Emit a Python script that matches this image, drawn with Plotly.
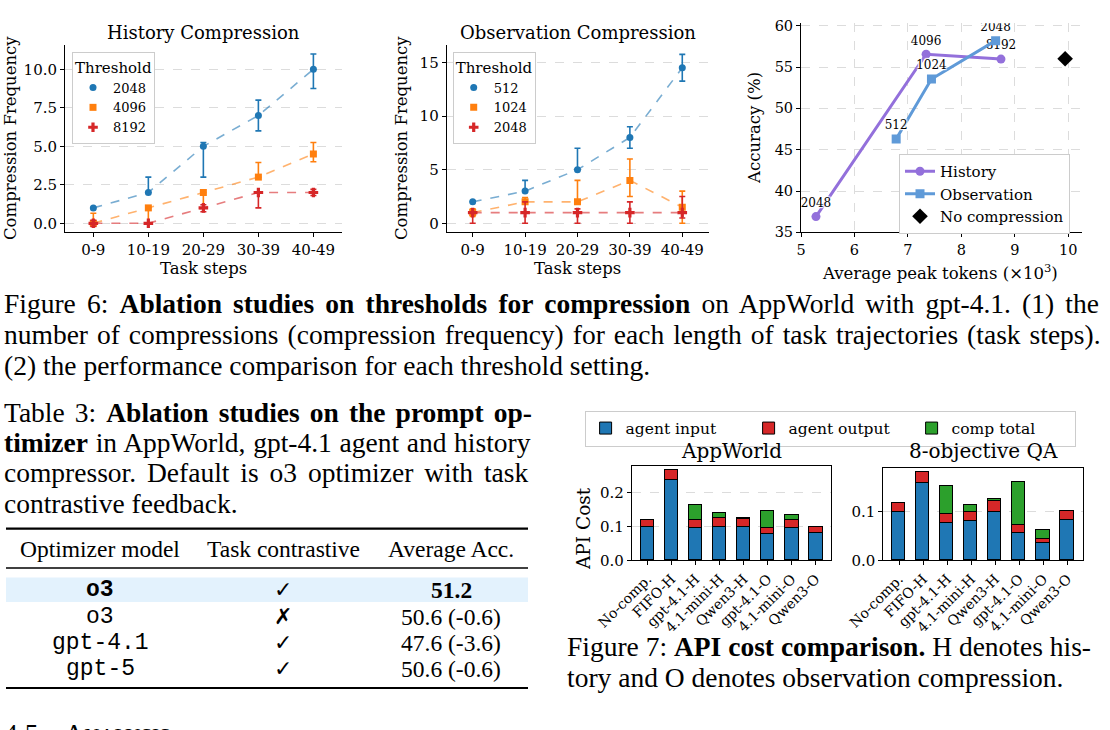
import plotly.graph_objects as go

W, H = 1110, 730
def fx(px): return px / W
def fy(py): return 1 - py / H

# ---------------- data ----------------
steps = ["0-9", "10-19", "20-29", "30-39", "40-49"]

hist_thresholds = ["2048", "4096", "8192"]
hist_2048 = [1, 2, 5, 7, 10]
hist_2048_up = [0, 1, 0.25, 1, 1]
hist_2048_dn = [0, 0, 2, 1, 1.25]
hist_4096 = [0, 1, 2, 3, 4.5]
hist_4096_up = [0.65, 0, 0, 0.95, 0.75]
hist_4096_dn = [0, 1, 1, 0, 0.5]
hist_8192 = [0, 0, 1, 2, 2]
hist_8192_up = [0.2, 0, 0.2, 0, 0.2]
hist_8192_dn = [0.2, 0, 0.25, 1, 0.2]

obs_thresholds = ["512", "1024", "2048"]
obs_512 = [2, 3, 5, 8, 14.5]
obs_512_up = [0, 1, 2, 1, 1.25]
obs_512_dn = [0, 0, 0, 1, 1.25]
obs_1024 = [1, 2, 2, 4, 1.5]
obs_1024_up = [0.35, 0.4, 2, 2, 1.5]
obs_1024_dn = [0.35, 0, 0, 1.5, 1.5]
obs_2048 = [1, 1, 1, 1, 1]
obs_2048_up = [0, 1, 0.35, 1, 1.5]
obs_2048_dn = [1, 1, 1, 1, 0.5]

acc_hist_tokens = [5.28, 7.34, 8.74]
acc_hist_acc = [36.9, 56.55, 55.97]
acc_hist_labels = ["2048", "4096", "8192"]
acc_obs_tokens = [6.78, 7.44, 8.64]
acc_obs_acc = [46.3, 53.55, 58.2]
acc_obs_labels = ["512", "1024", "2048"]
acc_nocomp_tokens = [9.94]
acc_nocomp_acc = [56.0]

methods = ["No-comp.", "FIFO-H", "gpt-4.1-H", "4.1-mini-H", "Qwen3-H", "gpt-4.1-O", "4.1-mini-O", "Qwen3-O"]
appworld_input = [0.100, 0.2375, 0.097, 0.100, 0.100, 0.078, 0.097, 0.081]
appworld_output = [0.019, 0.0315, 0.022, 0.025, 0.022, 0.019, 0.022, 0.019]
appworld_comp = [0, 0, 0.0445, 0.016, 0.004, 0.050, 0.016, 0]
qa_input = [0.100, 0.160, 0.076, 0.080, 0.100, 0.0565, 0.035, 0.082]
qa_output = [0.0174, 0.0226, 0.0197, 0.019, 0.0225, 0.0152, 0.0085, 0.020]
qa_comp = [0, 0, 0.0563, 0.014, 0.0035, 0.0903, 0.0175, 0]

table_header = ["Optimizer model", "Task contrastive", "Average Acc."]
table_models = ["o3", "o3", "gpt-4.1", "gpt-5"]
table_contrastive = [True, False, True, True]
table_acc = ["51.2", "50.6 (-0.6)", "47.6 (-3.6)", "50.6 (-0.6)"]

# ---------------- styles ----------------
SERIF = "DejaVu Serif"
TIMES = "Liberation Serif"
MONO = "Liberation Mono"
BLUE, ORANGE, RED, GREEN = "#1f77b4", "#ff7f0e", "#d62728", "#2ca02c"
LBLUE, LORANGE, LRED = "rgba(31,119,180,0.6)", "rgba(255,127,14,0.6)", "rgba(214,39,40,0.6)"
PURPLE, SKY = "#9370db", "#5f9ad8"

fig = go.Figure()

def line_trace(y, up, dn, name, color, lcolor, symbol, size, xa, ya, legend):
    fig.add_trace(go.Scatter(
        x=steps, y=y, mode="lines+markers", name=name, showlegend=False,
        line=dict(color=lcolor, width=1.6, dash="dash"),
        marker=dict(color=color, symbol=symbol, size=size, line=dict(width=0)),
        error_y=dict(type="data", symmetric=False, array=up, arrayminus=dn,
                     color=color, thickness=1.6, width=3),
        xaxis=xa, yaxis=ya))
    fig.add_trace(go.Scatter(
        x=[None], y=[None], mode="markers", name=name, legend=legend,
        marker=dict(color=color, symbol=symbol, size=size),
        xaxis=xa, yaxis=ya))

line_trace(hist_2048, hist_2048_up, hist_2048_dn, hist_thresholds[0], BLUE, LBLUE, "circle", 7, "x", "y", "legend2")
line_trace(hist_4096, hist_4096_up, hist_4096_dn, hist_thresholds[1], ORANGE, LORANGE, "square", 7, "x", "y", "legend2")
line_trace(hist_8192, hist_8192_up, hist_8192_dn, hist_thresholds[2], RED, LRED, "cross", 8, "x", "y", "legend2")
line_trace(obs_512, obs_512_up, obs_512_dn, obs_thresholds[0], BLUE, LBLUE, "circle", 7, "x2", "y2", "legend3")
line_trace(obs_1024, obs_1024_up, obs_1024_dn, obs_thresholds[1], ORANGE, LORANGE, "square", 7, "x2", "y2", "legend3")
line_trace(obs_2048, obs_2048_up, obs_2048_dn, obs_thresholds[2], RED, LRED, "cross", 8, "x2", "y2", "legend3")

halo = "1px 1px 1px white, -1px -1px 1px white, 1px -1px 1px white, -1px 1px 1px white, 0 0 2px white"
fig.add_trace(go.Scatter(
    x=acc_hist_tokens, y=acc_hist_acc, mode="lines+markers+text", name="History",
    text=acc_hist_labels, textposition="top center",
    textfont=dict(family=SERIF, size=12, color="black", shadow=halo),
    line=dict(color=PURPLE, width=3), marker=dict(color=PURPLE, symbol="circle", size=9),
    xaxis="x3", yaxis="y3", legend="legend4"))
fig.add_trace(go.Scatter(
    x=acc_obs_tokens, y=acc_obs_acc, mode="lines+markers+text", name="Observation",
    text=acc_obs_labels, textposition="top center",
    textfont=dict(family=SERIF, size=12, color="black", shadow=halo),
    line=dict(color=SKY, width=3), marker=dict(color=SKY, symbol="square", size=9),
    xaxis="x3", yaxis="y3", legend="legend4"))
fig.add_trace(go.Scatter(
    x=acc_nocomp_tokens, y=acc_nocomp_acc, mode="markers", name="No compression",
    marker=dict(color="black", symbol="diamond", size=12),
    xaxis="x3", yaxis="y3", legend="legend4"))

def bars(inp, out, comp, xa, ya, show):
    for vals, nm, col in [(inp, "agent input", BLUE), (out, "agent output", RED), (comp, "comp total", GREEN)]:
        fig.add_trace(go.Bar(x=methods, y=vals, name=nm, width=0.55,
                             marker=dict(color=col, line=dict(color="black", width=1)),
                             showlegend=show, legend="legend", xaxis=xa, yaxis=ya))

bars(appworld_input, appworld_output, appworld_comp, "x4", "y4", True)
bars(qa_input, qa_output, qa_comp, "x5", "y5", False)

# ---------------- axes ----------------
def axis_common(size, **kw):
    d = dict(showline=True, linecolor="black", linewidth=1, ticks="outside", ticklen=4,
             tickwidth=1, tickcolor="black", zeroline=False, automargin=False,
             tickfont=dict(family=SERIF, size=size, color="black"))
    d.update(kw)
    return d

grid = dict(showgrid=True, gridcolor="#dcdcdc", gridwidth=1, griddash="dash")

layout_axes = dict(
    xaxis=axis_common(15, domain=[fx(65), fx(342)], anchor="y", type="category",
                      categoryarray=steps, range=[-0.515, 4.52], showgrid=False),
    yaxis=axis_common(15, domain=[fy(232), fy(45)], anchor="x", range=[-0.566, 11.58],
                      tickvals=[0, 2.5, 5, 7.5, 10], tickformat=".1f", **grid),
    xaxis2=axis_common(15, domain=[fx(446.7), fx(709)], anchor="y2", type="category",
                       categoryarray=steps, range=[-0.496, 4.51], showgrid=False),
    yaxis2=axis_common(15, domain=[fy(232), fy(45)], anchor="x2", range=[-0.81, 16.62],
                       tickvals=[0, 5, 10, 15], **grid),
    xaxis3=axis_common(14.5, domain=[fx(801), fx(1081.7)], anchor="y3", range=[5, 10.25],
                       tickvals=[5, 6, 7, 8, 9, 10], **grid),
    yaxis3=axis_common(14.5, domain=[fy(232.3), fy(23.3)], anchor="x3", range=[35, 60.3],
                       tickvals=[35, 40, 45, 50, 55, 60], **grid),
    xaxis4=axis_common(14, domain=[fx(631.8), fx(831.4)], anchor="y4", type="category",
                       categoryarray=methods, range=[-0.65, 7.65], tickangle=-45,
                       mirror=True, showgrid=False),
    yaxis4=axis_common(15, domain=[fy(560.4), fy(466)], anchor="x4", range=[0, 0.28],
                       tickvals=[0, 0.1, 0.2], tickformat=".1f", mirror=True, **grid),
    xaxis5=axis_common(14, domain=[fx(883.4), fx(1083)], anchor="y5", type="category",
                       categoryarray=methods, range=[-0.65, 7.65], tickangle=-45,
                       mirror=True, showgrid=False),
    yaxis5=axis_common(15, domain=[fy(560.4), fy(468.4)], anchor="x5", range=[0, 0.19],
                       tickvals=[0, 0.1], tickformat=".1f", mirror=True, **grid),
)

# ---------------- annotations ----------------
anns = []
def ann(text, x, y, size, family, xanchor="center", yanchor="middle", angle=0):
    anns.append(dict(text=text, x=fx(x), y=fy(y), xref="paper", yref="paper", showarrow=False,
                     xanchor=xanchor, yanchor=yanchor, textangle=angle,
                     font=dict(size=size, family=family, color="black")))

def ws(text, px):
    return f"<span style='word-spacing:{px}px'>{text}</span>"

# chart titles / labels
ann("History Compression", 203.5, 32, 18, SERIF)
ann("Observation Compression", 577.8, 32, 18, SERIF)
ann("Task steps", 203.5, 268, 16.5, SERIF)
ann("Task steps", 577.8, 268, 16.5, SERIF)
ann("Compression Frequency", 10, 138, 16.5, SERIF, angle=-90)
ann("Compression Frequency", 401, 138, 16.5, SERIF, angle=-90)
ann("Accuracy (%)", 755, 128, 16.5, SERIF, angle=-90)
ann("Average peak tokens (×10<sup>3</sup>)", 940, 272, 16.5, SERIF)
ann("AppWorld", 731.6, 450.5, 20, SERIF)
ann("8-objective QA", 983.2, 450.5, 20, SERIF)
ann("API Cost", 583, 529, 18.5, SERIF, angle=-90)

# Figure 6 caption
CAP = 27.5
ann(ws("Figure 6: <b>Ablation studies on thresholds for compression</b> on AppWorld with gpt-4.1. (1) the", 4.3),
    2, 303, CAP, TIMES, xanchor="left")
ann(ws("number of compressions (compression frequency) for each length of task trajectories (task steps).", 2.1),
    2, 334, CAP, TIMES, xanchor="left")
ann("(2) the performance comparison for each threshold setting.", 2, 365, CAP, TIMES, xanchor="left")

# Table 3 caption
ann(ws("Table 3: <b>Ablation studies on the prompt op-</b>", 3.2), 2, 412, CAP, TIMES, xanchor="left")
ann(ws("<b>timizer</b> in AppWorld, gpt-4.1 agent and history", 0.8), 2, 442.5, CAP, TIMES, xanchor="left")
ann(ws("compressor. Default is o3 optimizer with task", 4.0), 2, 473, CAP, TIMES, xanchor="left")
ann("contrastive feedback.", 2, 503.5, CAP, TIMES, xanchor="left")

# Figure 7 caption
ann(ws("Figure 7: <b>API cost comparison.</b> H denotes his-", 0), 565, 646, CAP, TIMES, xanchor="left")
ann("tory and O denotes observation compression.", 565, 677, CAP, TIMES, xanchor="left")

# Table
TS = 23.5
col_x = [100, 283, 451]
for cx, h in zip(col_x, table_header):
    ann(h, cx, 549, TS, TIMES)
row_y = [589.6, 616.5, 642.5, 668.5]
for i, (m, c, a) in enumerate(zip(table_models, table_contrastive, table_acc)):
    bold = i == 0
    ann(f"<b>{m}</b>" if bold else m, col_x[0], row_y[i], 23, MONO)
    ann("✓" if c else "<b>✗</b>", col_x[1], row_y[i], 22, "DejaVu Sans")
    ann(f"<b>{a}</b>" if bold else a, col_x[2], row_y[i], TS, TIMES)

ann("4.5    A<span style='font-size:21px'>NALYSIS</span>", 2, 733, CAP, TIMES, xanchor="left")

shapes = [
    dict(type="rect", xref="paper", yref="paper", x0=fx(6), x1=fx(528), y0=fy(602), y1=fy(577.5),
         fillcolor="#e3f2fd", line=dict(width=0), layer="below"),
    dict(type="line", xref="paper", yref="paper", x0=fx(6), x1=fx(528), y0=fy(528.6), y1=fy(528.6),
         line=dict(color="black", width=2.2)),
    dict(type="line", xref="paper", yref="paper", x0=fx(6), x1=fx(528), y0=fy(568), y1=fy(568),
         line=dict(color="black", width=1.6)),
    dict(type="line", xref="paper", yref="paper", x0=fx(6), x1=fx(528), y0=fy(688), y1=fy(688),
         line=dict(color="black", width=2.2)),
]

leg_common = dict(bgcolor="white", bordercolor="#cccccc", borderwidth=1,
                  xanchor="left", yanchor="top", tracegroupgap=0)

fig.update_layout(
    width=W, height=H, margin=dict(l=0, r=0, t=0, b=0),
    paper_bgcolor="white", plot_bgcolor="white",
    barmode="stack", bargap=0,
    font=dict(family=SERIF, color="black"),
    annotations=anns, shapes=shapes,
    legend=dict(orientation="h", x=fx(584.6), y=fy(410.5), entrywidth=118, traceorder="normal",
                font=dict(family=SERIF, size=15.5), **leg_common),
    legend2=dict(x=fx(72), y=fy(52), title=dict(text="Threshold", side="top",
                 font=dict(family=SERIF, size=15)), font=dict(family=SERIF, size=13), **leg_common),
    legend3=dict(x=fx(452.7), y=fy(52), title=dict(text="Threshold", side="top",
                 font=dict(family=SERIF, size=15)), font=dict(family=SERIF, size=13), **leg_common),
    legend4=dict(x=fx(899), y=fy(154), font=dict(family=SERIF, size=15), **leg_common),
    **layout_axes,
)

fig.write_html("out.html")
